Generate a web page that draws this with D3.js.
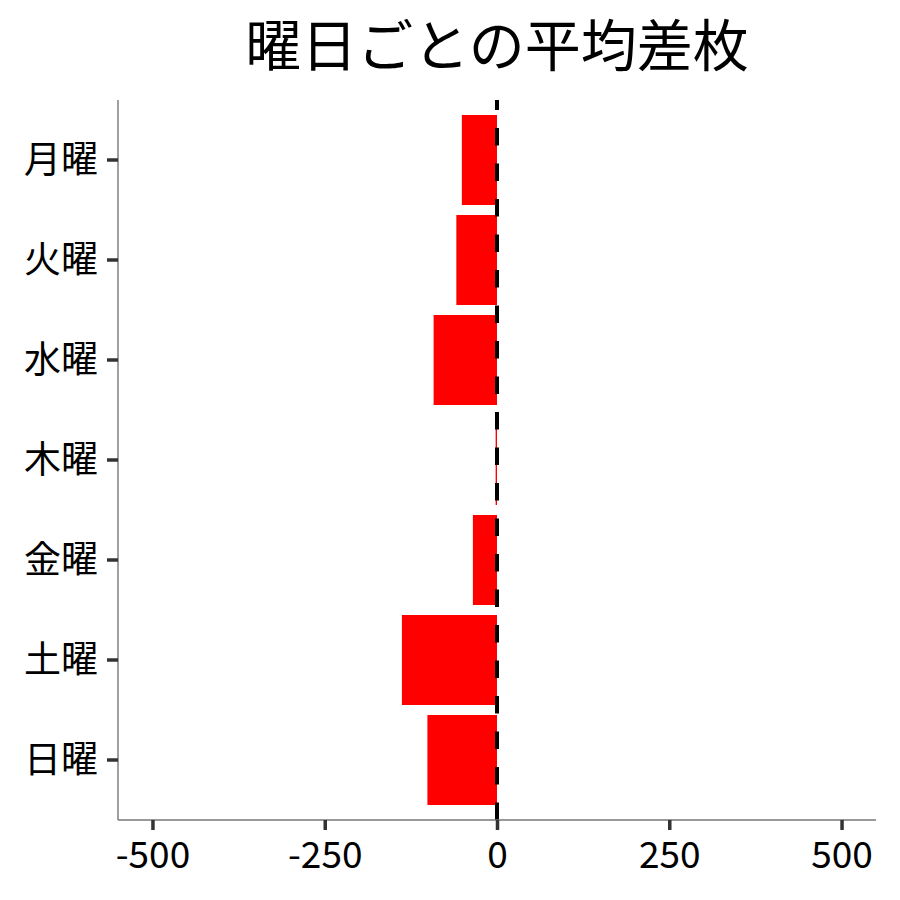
<!DOCTYPE html>
<html><head><meta charset="utf-8">
<script src="https://cdn.jsdelivr.net/npm/d3@7"></script>
<style>body{margin:0;background:#fff}svg{display:block}text{font-family:"Noto Sans CJK JP",sans-serif}</style>
</head><body><div id="chart"></div>
<script>
const days = ["月曜","火曜","水曜","木曜","金曜","土曜","日曜"];
const avgDiff = [-51, -59, -92, -2, -35, -138, -101];
const xTicks = [-500,-250,0,250,500];
const title = "曜日ごとの平均差枚";

const W=900,H=900, m={l:118,r:24,t:100,b:80};
const svg=d3.select("#chart").append("svg").attr("width",W).attr("height",H);
const x=d3.scaleLinear().domain([-550,550]).range([m.l,W-m.r]);
const y=d3.scaleBand().domain(days).range([m.t,H-m.b]).paddingInner(0.1).paddingOuter(0.15);

svg.append("g").selectAll("rect").data(days).join("rect")
  .attr("x",(d,i)=>x(Math.min(0,avgDiff[i])))
  .attr("width",(d,i)=>Math.abs(x(avgDiff[i])-x(0)))
  .attr("y",d=>y(d)).attr("height",y.bandwidth()).attr("fill","#ff0000");

svg.append("line").attr("x1",x(0)).attr("x2",x(0)).attr("y1",H-m.b).attr("y2",m.t)
  .attr("stroke","#000").attr("stroke-width",4).attr("stroke-dasharray","17.5 18");

const xa=svg.append("g").attr("transform",`translate(0,${H-m.b})`)
  .call(d3.axisBottom(x).tickValues(xTicks).tickSize(10).tickPadding(4).tickFormat(d=>String(d)));
const ya=svg.append("g").attr("transform",`translate(${m.l},0)`)
  .call(d3.axisLeft(y).tickSize(11).tickPadding(9));
[xa,ya].forEach(a=>{
  a.select(".domain").attr("stroke","#777").attr("stroke-width",1.4).attr("d",a===xa?`M${m.l},0H${W-m.r}`:`M0,${m.t}V${H-m.b}`);
  a.selectAll(".tick line").attr("stroke","#333").attr("stroke-width",3.5);
  a.selectAll(".tick text").attr("fill","#000").style("font-size","37px").style("font-family","'Noto Sans CJK JP'");
});
xa.selectAll(".tick text").attr("y",48).attr("dy",0);
ya.selectAll(".tick text").attr("dy","0.36em");

svg.append("text").attr("x",(m.l+W-m.r)/2).attr("y",66).attr("text-anchor","middle")
  .style("font-size","56px").attr("fill","#000").text(title);
</script></body></html>
